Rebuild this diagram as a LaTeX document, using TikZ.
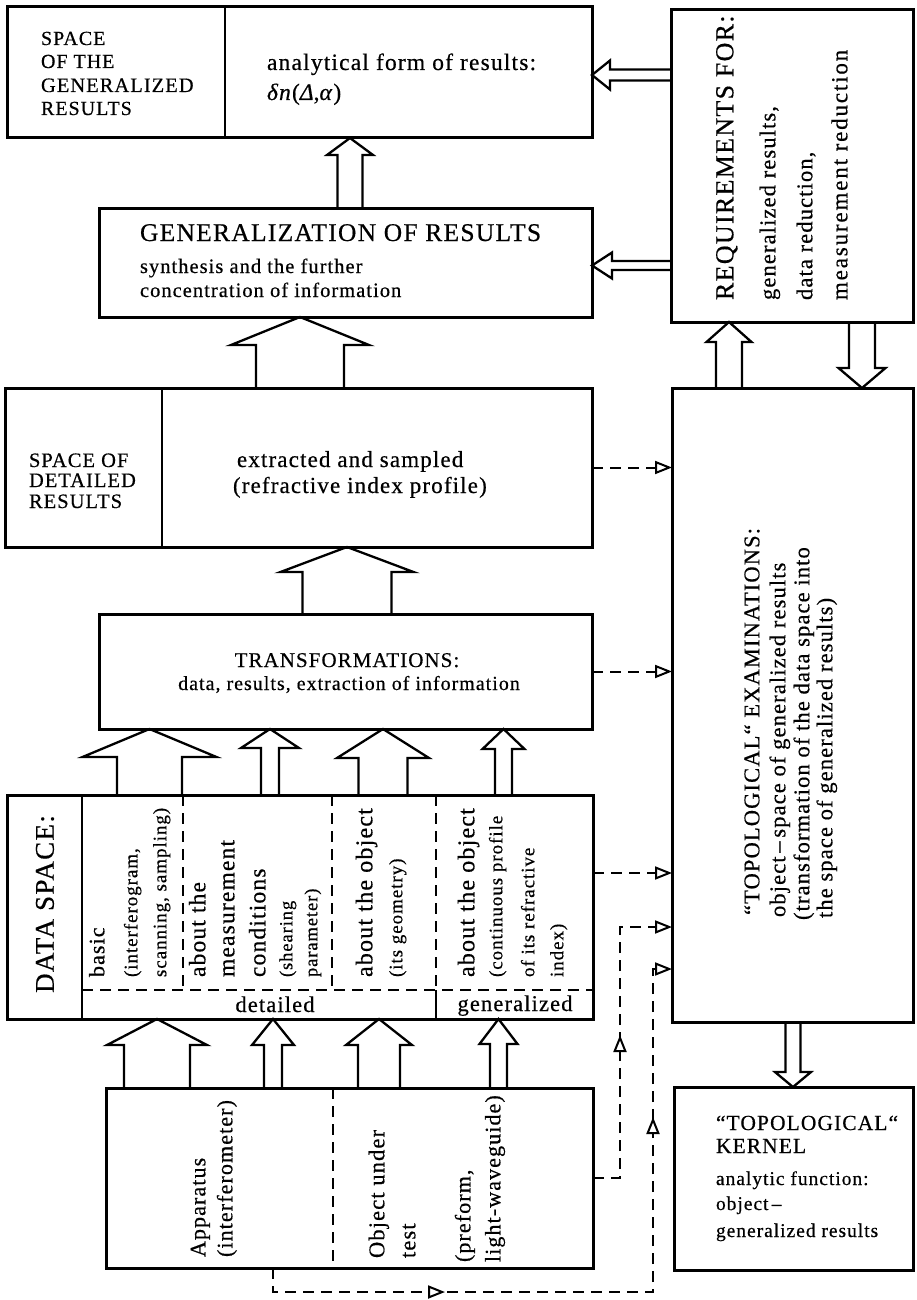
\documentclass[tikz,border=0pt]{standalone}
\usepackage{fontspec}
\setmainfont{Liberation Serif}[LetterSpace=5,FakeBold=0.5]
\usetikzlibrary{arrows.meta,calc,decorations.markings}
\newcommand\fsz[1]{\fontsize{#1}{#1}\selectfont}
\newcommand\bx[5]{\node[box, minimum width={(#4-#2)*1pt}, minimum height={(#5-#3)*1pt}] (#1) at (#2,#3) {};}
\newcommand\upblk[6]{\draw[blk] let \p1=(#1), \p2=(#2) in
  ({(#3-#4)*1pt},\y1) -- ({(#3-#4)*1pt},{\y2-#6*1pt}) -- ({(#3-#5)*1pt},{\y2-#6*1pt}) -- ({#3*1pt},\y2)
  -- ({(#3+#5)*1pt},{\y2-#6*1pt}) -- ({(#3+#4)*1pt},{\y2-#6*1pt}) -- ({(#3+#4)*1pt},\y1);}
\newcommand\downblk[6]{\draw[blk] let \p1=(#1), \p2=(#2) in
  ({(#3-#4)*1pt},\y1) -- ({(#3-#4)*1pt},{\y2+#6*1pt}) -- ({(#3-#5)*1pt},{\y2+#6*1pt}) -- ({#3*1pt},\y2)
  -- ({(#3+#5)*1pt},{\y2+#6*1pt}) -- ({(#3+#4)*1pt},{\y2+#6*1pt}) -- ({(#3+#4)*1pt},\y1);}
\newcommand\leftblk[6]{\draw[blk] let \p1=(#1), \p2=(#2) in
  (\x1,{-(#3-#4)*1pt}) -- ({\x2+#6*1pt},{-(#3-#4)*1pt}) -- ({\x2+#6*1pt},{-(#3-#5)*1pt}) -- (\x2,{-#3*1pt})
  -- ({\x2+#6*1pt},{-(#3+#5)*1pt}) -- ({\x2+#6*1pt},{-(#3+#4)*1pt}) -- (\x1,{-(#3+#4)*1pt});}
\tikzset{
  tri/.tip={Triangle[length=17pt,width=13pt,fill=white,line width=2pt]},
  box/.style={draw, line width=3pt, inner sep=0pt, outer sep=0pt, anchor=north west},
  ln/.style={line width=2.8pt},
  blk/.style={line width=2.3pt, line join=miter},
  dsh/.style={line width=2pt, dash pattern=on 11pt off 7pt},
  idsh/.style={line width=2.3pt, dash pattern=on 11pt off 7pt},
  tip/.style={-tri},
  txt/.style={inner sep=0pt, outer sep=0pt, anchor=base west},
  rot/.style={inner sep=0pt, outer sep=0pt, rotate=90, anchor=mid west},
}
\begin{document}
\begin{tikzpicture}[x=1pt,y=-1pt]
\useasboundingbox (0,0) rectangle (916,1300);
% ---------- boxes
\bx{b1}{7}{7}{592}{138}
\draw[ln] ($(b1.north west)+(218,0)$) -- ($(b1.south west)+(218,0)$);
\bx{req}{671}{10}{913}{322}
\bx{gen}{99}{208}{592}{317}
\bx{det}{5}{388}{592}{547}
\draw[ln] ($(det.north west)+(157,0)$) -- ($(det.south west)+(157,0)$);
\bx{trans}{99}{614}{592}{729}
\bx{topo}{672}{388}{913}{1022}
\bx{data}{7}{795}{593}{1019}
\draw[ln] ($(data.north west)+(75,0)$) -- ($(data.south west)+(75,0)$);
\draw[idsh] ($(data.north west)+(176,0)$) -- ($(data.north west)+(176,195)$);
\draw[idsh] ($(data.north west)+(325,0)$) -- ($(data.north west)+(325,195)$);
\draw[idsh] ($(data.north west)+(429,0)$) -- ($(data.north west)+(429,195)$);
\draw[idsh] ($(data.north west)+(75,195)$) -- ($(data.north east)+(0,195)$);
\draw[ln] ($(data.north west)+(429,195)$) -- ($(data.south west)+(429,0)$);
\bx{app}{106}{1088}{593}{1268}
\draw[idsh] ($(app.north west)+(227,0)$) -- ($(app.south west)+(227,0)$);
\bx{kern}{674}{1087}{913}{1270}
% ---------- block arrows
\upblk{gen.north}{b1.south}{350}{12.5}{23}{17}
\upblk{det.north}{gen.south}{300}{44}{69}{28}
\upblk{trans.north}{det.south}{347}{44.5}{66.5}{25}
\upblk{data.north}{trans.south}{149.5}{32.5}{67}{28}
\upblk{data.north}{trans.south}{270}{9}{29}{19}
\upblk{data.north}{trans.south}{383}{24.5}{46}{29}
\upblk{data.north}{trans.south}{503.5}{8.5}{21}{20}
\upblk{app.north}{data.south}{157}{33}{50}{26}
\upblk{app.north}{data.south}{273}{9}{21}{26}
\upblk{app.north}{data.south}{379}{21}{33}{26}
\upblk{app.north}{data.south}{498.5}{8.5}{19}{25}
\upblk{topo.north}{req.south}{729}{13}{22.5}{20}
\downblk{req.south}{topo.north}{862}{13}{23.5}{20}
\downblk{topo.south}{kern.north}{793}{7.5}{18}{15}
\leftblk{req.west}{b1.east}{75}{5.5}{14.5}{18}
\leftblk{req.west}{gen.east}{265.5}{4.5}{13}{20}
% ---------- dashed connectors
\draw[dsh, tip] (det.east) -- (det.east -| topo.west);
\draw[dsh, tip] (trans.east) -- (trans.east -| topo.west);
\coordinate (dsout) at ($(data.north east)+(0,78)$);
\draw[dsh, tip] (dsout) -- (dsout -| topo.west);
\coordinate (c1) at (620,927);
\draw[dsh, tip, postaction={decorate}, decoration={markings, mark=at position 170pt with {\arrow{tri}}}]
  (app.east) -| (c1) -- (c1 -| topo.west);
\coordinate (c2s) at ($(app.south west)+(167,0)$);
\coordinate (c2a) at ($(app.south west)+(167,24)$);
\coordinate (c2b) at (653,969);
\draw[dsh, tip, postaction={decorate}, decoration={markings,
    mark=at position 196pt with {\arrow{tri}},
    mark=at position 579pt with {\arrow{tri}}}]
  (c2s) -- (c2a) -| (c2b) -- (c2b -| topo.west);
% ---------- horizontal texts
\node[txt, font=\fsz{20}] (t1) at (41,45) {SPACE};
\node[txt, font=\fsz{20}] (t2) at (41,68) {OF THE};
\node[txt, font=\fsz{20.5}] (t3) at (41,92) {GENERALIZED};
\node[txt, font=\fsz{20}] (t4) at (41,115) {RESULTS};
\node[txt, font=\fsz{23.5}] (t5) at (267,70) {analytical form of results:};
\node[txt, font=\fsz{23.5}] (t6) at (267,100) {\textit{δn}(\textit{Δ},\textit{α})};
\node[txt, font=\fsz{25.5}] (t7) at (140,241) {GENERALIZATION OF RESULTS};
\node[txt, font=\fsz{20.5}] (t8) at (140,273) {synthesis and the further};
\node[txt, font=\fsz{20.5}] (t9) at (140,297) {concentration of information};
\node[txt, font=\fsz{20.5}] (t10) at (29,467) {SPACE OF};
\node[txt, font=\fsz{20.5}] (t11) at (29,487) {DETAILED};
\node[txt, font=\fsz{20.5}] (t12) at (29,508) {RESULTS};
\node[txt, font=\fsz{23}] (t13) at (237,467) {extracted and sampled};
\node[txt, font=\fsz{23}] (t14) at (233,493) {(refractive index profile)};
\node[txt, anchor=base, font=\fsz{21}] (t15) at (347,667) {TRANSFORMATIONS:};
\node[txt, anchor=base, font=\fsz{20}] (t16) at (349,690) {data, results, extraction of information};
\node[txt, anchor=base, font=\fsz{22.5}] (t17) at (275,1012) {detailed};
\node[txt, anchor=base, font=\fsz{22.5}] (t18) at (515,1011) {generalized};
\node[txt, font=\fsz{21.5}] (t19) at (716,1130) {“TOPOLOGICAL“};
\node[txt, font=\fsz{21.5}] (t20) at (716,1153) {KERNEL};
\node[txt, font=\fsz{19.5}] (t21) at (716,1185) {analytic function:};
\node[txt, font=\fsz{19.5}] (t22) at (716,1210) {object\,–};
\node[txt, font=\fsz{19.5}] (t23) at (716,1237) {generalized results};
% ---------- rotated texts
\node[rot, anchor=center, font=\fsz{27}] (r1) at (45,904) {DATA SPACE:};
\node[rot, font=\fsz{26}] (r2) at (731,300) {REQUIREMENTS FOR:};
\node[rot, font=\fsz{22.5}] (r3) at (773,300) {generalized results,};
\node[rot, font=\fsz{22.5}] (r4) at (810,300) {data reduction,};
\node[rot, font=\fsz{23}\addfontfeatures{LetterSpace=8}] (r5) at (845,300) {measurement reduction};
\node[rot, font=\fsz{22.5}] (r6) at (757,915) {“TOPOLOGICAL“ EXAMINATIONS:};
\node[rot, font=\fsz{22.5}] (r7) at (783,917) {object\,–\,space of generalized results};
\node[rot, font=\fsz{22.5}] (r8) at (807,920) {(transformation of the data space into};
\node[rot, font=\fsz{22.5}] (r9) at (830,918) {the space of generalized results)};
\node[rot, font=\fsz{22}] (r10) at (102,977) {basic};
\node[rot, font=\fsz{19}] (r11) at (135,977) {(interferogram,};
\node[rot, font=\fsz{19}] (r12) at (164,977) {scanning, sampling)};
\node[rot, font=\fsz{23.5}] (r13) at (203,977) {about the};
\node[rot, font=\fsz{23.5}] (r14) at (232,977) {measurement};
\node[rot, font=\fsz{23.5}] (r15) at (263,977) {conditions};
\node[rot, font=\fsz{18.5}] (r16) at (290,977) {(shearing};
\node[rot, font=\fsz{18.5}] (r17) at (315,977) {parameter)};
\node[rot, font=\fsz{24}] (r18) at (370,977) {about the object};
\node[rot, font=\fsz{19}] (r19) at (400,977) {(its geometry)};
\node[rot, font=\fsz{24}] (r20) at (472,977) {about the object};
\node[rot, font=\fsz{19}] (r21) at (500,977) {(continuous profile};
\node[rot, font=\fsz{19}] (r22) at (532,977) {of its refractive};
\node[rot, font=\fsz{19}] (r23) at (561,977) {index)};
\node[rot, font=\fsz{22}] (r24) at (203,1257) {Apparatus};
\node[rot, font=\fsz{22}] (r25) at (230,1257) {(interferometer)};
\node[rot, font=\fsz{22.5}] (r26) at (382,1258) {Object under};
\node[rot, font=\fsz{22.5}] (r27) at (413,1258) {test};
\node[rot, font=\fsz{22}] (r28) at (468,1262) {(preform,};
\node[rot, font=\fsz{22}] (r29) at (498,1262) {light-waveguide)};
\end{tikzpicture}
\end{document}
